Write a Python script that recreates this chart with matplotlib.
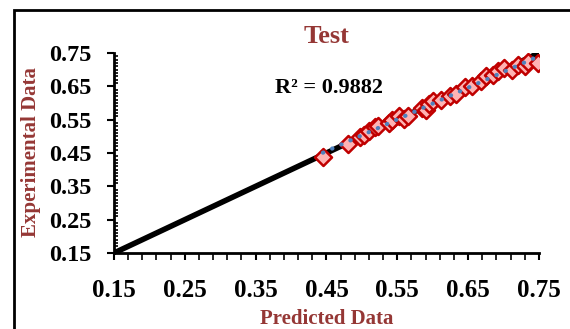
import numpy as np
import matplotlib
matplotlib.use("Agg")
import matplotlib.pyplot as plt
from matplotlib.patches import Rectangle

plt.rcParams["font.family"] = ["Liberation Serif", "DejaVu Serif"]
plt.rcParams["font.weight"] = "bold"

# test set: predicted vs experimental
predicted = [0.445, 0.480, 0.497, 0.503, 0.510, 0.518, 0.523, 0.538, 0.543, 0.553,
             0.560, 0.565, 0.585, 0.590, 0.595, 0.600, 0.612, 0.625, 0.633, 0.645,
             0.655, 0.668, 0.675, 0.685, 0.692, 0.700, 0.712, 0.720, 0.730, 0.735, 0.748]
experimental = [0.439, 0.478, 0.497, 0.505, 0.515, 0.528, 0.532, 0.540, 0.548, 0.560,
                0.553, 0.562, 0.585, 0.578, 0.598, 0.605, 0.608, 0.620, 0.628, 0.648,
                0.652, 0.665, 0.680, 0.685, 0.695, 0.705, 0.700, 0.715, 0.710, 0.722, 0.720]
ideal = [0.15, 0.75]
ticks = [0.15, 0.25, 0.35, 0.45, 0.55, 0.65, 0.75]
r2_text = "R² = 0.9882"

brown = "#953735"

fig = plt.figure(figsize=(5.7, 3.29), dpi=100)
ax = fig.add_axes([0.2, 0.231, 0.7456, 0.608])

# outer frame, cut off on right / bottom like the original
fig.patches.append(Rectangle((14 / 570, -0.1), 1.2, 1 - 10 / 329 + 0.1,
                             transform=fig.transFigure, fill=False,
                             edgecolor="black", linewidth=2, zorder=0))

ax.plot(ideal, ideal, color="black", linewidth=4, solid_capstyle="butt", zorder=1)
ax.scatter(predicted, experimental, marker="D", s=75, facecolor="#FFB3B3",
           edgecolor="#C00000", linewidth=1.8, zorder=2)

# linear trend line
m, b = np.polyfit(predicted, experimental, 1)
xs = np.array([min(predicted), max(predicted)])
ax.plot(xs, m * xs + b, color="#4F81BD", linewidth=3, linestyle=(0, (0.1, 2.3)),
        dash_capstyle="round", zorder=3)

ax.set_xlim(0.15, 0.75)
ax.set_ylim(0.15, 0.75)
ax.set_xticks(ticks)
ax.set_yticks(ticks)
ax.set_xticks(np.arange(0.15, 0.7501, 0.02), minor=True)
ax.set_yticks(np.arange(0.15, 0.7501, 0.01), minor=True)
ax.set_xticklabels([f"{t:.2f}" for t in ticks])
ax.set_yticklabels([f"{t:.2f}" for t in ticks])
ax.tick_params(axis="x", which="major", labelsize=18, width=1.5, length=5, pad=14)
ax.tick_params(axis="y", which="major", labelsize=17.5, width=1.5, length=5, pad=11)
ax.tick_params(axis="x", which="minor", width=1.2, length=5, direction="out")
ax.tick_params(axis="y", which="minor", width=1.2, length=3, direction="in")

for s in ["top", "right"]:
    ax.spines[s].set_visible(False)
for s in ["left", "bottom"]:
    ax.spines[s].set_linewidth(2)

ax.set_title("Test", fontsize=19, color=brown, fontweight="bold", pad=0, y=1.05)
ax.set_xlabel("Predicted Data", fontsize=15, color=brown, fontweight="bold", labelpad=5)
ax.set_ylabel("Experimental Data", fontsize=15, color=brown, fontweight="bold")
ax.yaxis.set_label_coords(-0.172, 0.507)
ax.text(0.38, 0.825, r2_text, transform=ax.transAxes, fontsize=16,
        fontweight="bold", color="black", va="center", ha="left")

fig.savefig("out.png", dpi=100)
